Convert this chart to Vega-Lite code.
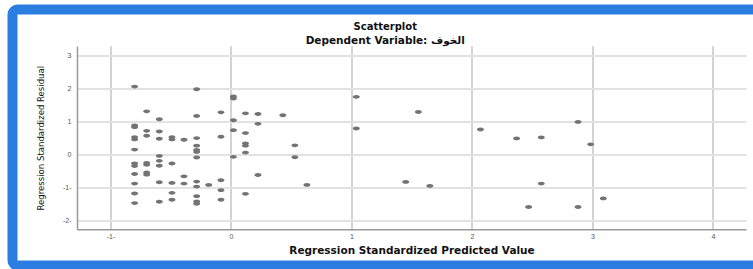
{
  "$schema": "https://vega.github.io/schema/vega-lite/v6.json",
  "autosize": {"type": "none"},
  "padding": {"left": 12.5, "top": 9.5, "right": -5, "bottom": 3.5},
  "width": 745.5,
  "height": 256,
  "background": "white",
  "title": {
    "text": "Scatterplot",
    "subtitle": "Dependent Variable: الخوف",
    "frame": "group",
    "anchor": "middle",
    "offset": -37,
    "font": "DejaVu Sans",
    "fontSize": 10,
    "fontWeight": "bold",
    "color": "#111111",
    "subtitleFont": "DejaVu Sans",
    "subtitleFontSize": 10.5,
    "subtitleFontWeight": "bold",
    "subtitleColor": "#111111",
    "subtitlePadding": 4
  },
  "config": {
    "view": {"stroke": "#2a7de1", "strokeWidth": 10, "cornerRadius": 5, "fill": "white"}
  },
  "data": {
    "values": [
      {"pred": -0.80, "resid": 2.05}, {"pred": -0.80, "resid": 0.87}, {"pred": -0.80, "resid": 0.82},
      {"pred": -0.80, "resid": 0.52}, {"pred": -0.80, "resid": 0.45}, {"pred": -0.80, "resid": 0.14},
      {"pred": -0.80, "resid": -0.28}, {"pred": -0.80, "resid": -0.36}, {"pred": -0.80, "resid": -0.60},
      {"pred": -0.80, "resid": -0.89}, {"pred": -0.80, "resid": -1.19}, {"pred": -0.80, "resid": -1.48},
      {"pred": -0.70, "resid": 1.30}, {"pred": -0.70, "resid": 0.71}, {"pred": -0.70, "resid": 0.56},
      {"pred": -0.70, "resid": -0.26}, {"pred": -0.70, "resid": -0.32}, {"pred": -0.70, "resid": -0.55},
      {"pred": -0.70, "resid": -0.62},
      {"pred": -0.595, "resid": 1.06}, {"pred": -0.595, "resid": 0.69}, {"pred": -0.595, "resid": 0.47},
      {"pred": -0.595, "resid": -0.05}, {"pred": -0.595, "resid": -0.20}, {"pred": -0.595, "resid": -0.35},
      {"pred": -0.595, "resid": -0.85}, {"pred": -0.595, "resid": -1.44},
      {"pred": -0.49, "resid": 0.52}, {"pred": -0.49, "resid": 0.45}, {"pred": -0.49, "resid": -0.28},
      {"pred": -0.49, "resid": -0.87}, {"pred": -0.49, "resid": -1.17}, {"pred": -0.49, "resid": -1.38},
      {"pred": -0.39, "resid": 0.44}, {"pred": -0.39, "resid": -0.67}, {"pred": -0.39, "resid": -0.89},
      {"pred": -0.285, "resid": 1.97}, {"pred": -0.285, "resid": 1.16}, {"pred": -0.285, "resid": 0.49},
      {"pred": -0.285, "resid": 0.26}, {"pred": -0.285, "resid": 0.13}, {"pred": -0.285, "resid": 0.07},
      {"pred": -0.285, "resid": -0.10}, {"pred": -0.285, "resid": -0.83}, {"pred": -0.285, "resid": -0.98},
      {"pred": -0.285, "resid": -1.27}, {"pred": -0.285, "resid": -1.43}, {"pred": -0.285, "resid": -1.50},
      {"pred": -0.185, "resid": -0.93},
      {"pred": -0.083, "resid": 1.27}, {"pred": -0.083, "resid": 0.53}, {"pred": -0.083, "resid": -0.79},
      {"pred": -0.083, "resid": -1.09}, {"pred": -0.083, "resid": -1.38},
      {"pred": 0.02, "resid": 1.75}, {"pred": 0.02, "resid": 1.69}, {"pred": 0.02, "resid": 1.03},
      {"pred": 0.02, "resid": 0.73}, {"pred": 0.02, "resid": -0.08},
      {"pred": 0.12, "resid": 1.24}, {"pred": 0.12, "resid": 0.64}, {"pred": 0.12, "resid": 0.33},
      {"pred": 0.12, "resid": 0.26}, {"pred": 0.12, "resid": 0.05}, {"pred": 0.12, "resid": -1.20},
      {"pred": 0.224, "resid": 1.22}, {"pred": 0.224, "resid": 0.92}, {"pred": 0.224, "resid": -0.63},
      {"pred": 0.43, "resid": 1.18},
      {"pred": 0.53, "resid": 0.27}, {"pred": 0.53, "resid": -0.09},
      {"pred": 0.63, "resid": -0.93},
      {"pred": 1.04, "resid": 1.74}, {"pred": 1.04, "resid": 0.78},
      {"pred": 1.555, "resid": 1.28},
      {"pred": 1.45, "resid": -0.84},
      {"pred": 1.65, "resid": -0.96},
      {"pred": 2.07, "resid": 0.75},
      {"pred": 2.37, "resid": 0.48},
      {"pred": 2.575, "resid": 0.51}, {"pred": 2.575, "resid": -0.89},
      {"pred": 2.88, "resid": 0.98}, {"pred": 2.88, "resid": -1.60},
      {"pred": 2.985, "resid": 0.30},
      {"pred": 3.09, "resid": -1.34},
      {"pred": 2.47, "resid": -1.60}
    ]
  },
  "mark": {
    "type": "point",
    "shape": "M-1,0A1,0.55,0,1,0,1,0A1,0.55,0,1,0,-1,0Z",
    "size": 49,
    "filled": true,
    "color": "#737373",
    "opacity": 1,
    "strokeWidth": 0
  },
  "encoding": {
    "x": {
      "field": "pred",
      "type": "quantitative",
      "scale": {"domain": [-1.278, 4.274], "range": [64.5, 733.5], "nice": false, "zero": false},
      "axis": {
        "title": "Regression Standardized Predicted Value",
        "titleFont": "DejaVu Sans",
        "titleFontSize": 10.5,
        "titleFontWeight": "bold",
        "titleColor": "#111111",
        "titlePadding": 6,
        "offset": -36.2,
        "values": [-1, 0, 1, 2, 3, 4],
        "labelExpr": "datum.value < 0 ? '-' + format(-datum.value, 'd') + '-' : format(datum.value, 'd')",
        "labelFont": "Liberation Sans",
        "labelFontSize": 7,
        "labelColor": "#555555",
        "labelPadding": 3,
        "ticks": false,
        "domainColor": "#999999",
        "domainWidth": 1.5,
        "grid": true,
        "gridColor": "#c4c4c4",
        "gridWidth": 1.5
      }
    },
    "y": {
      "field": "resid",
      "type": "quantitative",
      "scale": {"domain": [-2.275, 3.28], "range": [219.8, 36.5], "nice": false, "zero": false},
      "axis": {
        "title": "Regression Standardized Residual",
        "titleFont": "Liberation Sans Narrow, DejaVu Sans Condensed, Liberation Sans, sans-serif",
        "titleFontSize": 9.5,
        "titleFontWeight": "normal",
        "titleColor": "#111111",
        "titlePadding": 17,
        "offset": -64.5,
        "values": [-2, -1, 0, 1, 2, 3],
        "labelExpr": "datum.value < 0 ? '-' + format(-datum.value, 'd') + '-' : format(datum.value, 'd')",
        "labelFont": "Liberation Sans",
        "labelFontSize": 7,
        "labelColor": "#555555",
        "labelPadding": 6,
        "ticks": false,
        "domainColor": "#999999",
        "domainWidth": 1.5,
        "grid": true,
        "gridColor": "#e2e2e2",
        "gridWidth": 2
      }
    }
  }
}
